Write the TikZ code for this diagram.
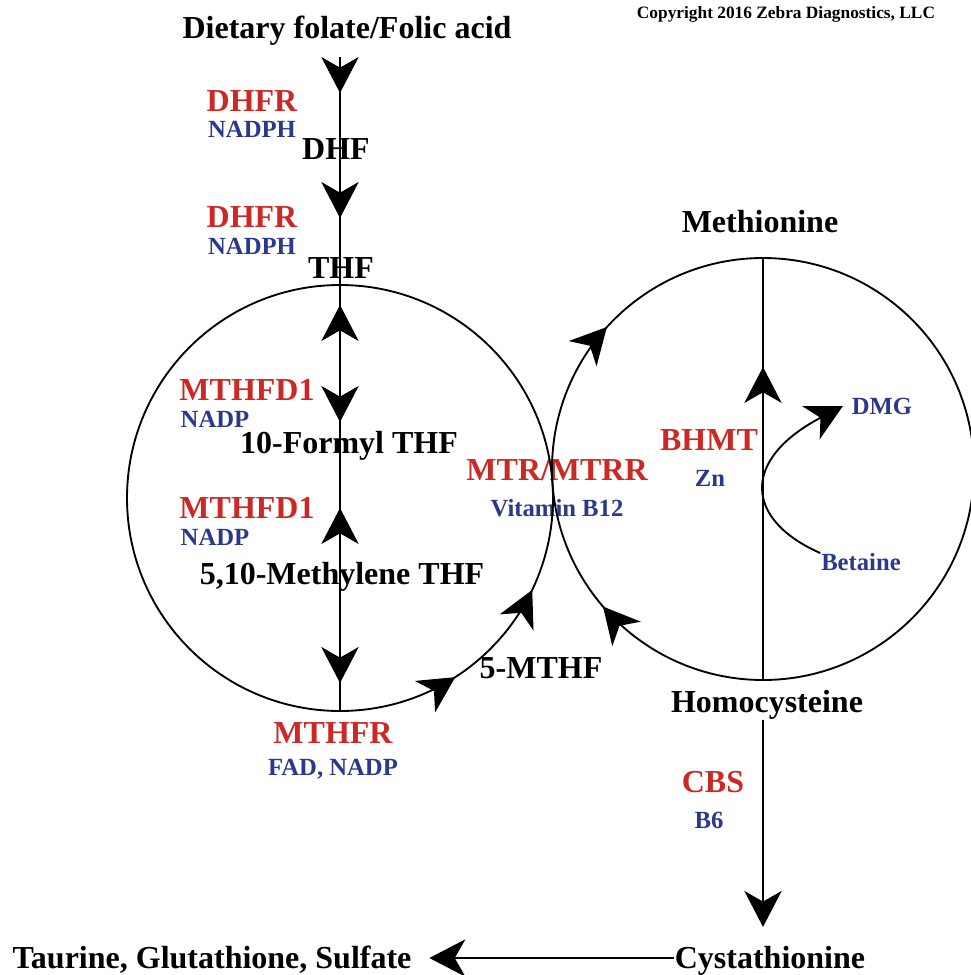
\documentclass[tikz,border=0pt]{standalone}
\usepackage{fontspec}
\setmainfont{Liberation Serif}
\usepackage{tikz}
\usetikzlibrary{arrows.meta, calc, decorations.markings}
\definecolor{enzred}{RGB}{204,41,38}
\definecolor{cofblue}{RGB}{44,56,140}

\begin{document}
\begin{tikzpicture}[x=0.75pt, y=-0.75pt, line width=1.4pt,
	head/.tip={Stealth[length=27pt, width=28pt, inset=8pt]},
	txt/.style={inner sep=0pt, text height=16pt, text depth=0pt,
		font=\fontsize{24}{28}\selectfont\bfseries},
	enz/.style={txt, text=enzred},
	cof/.style={inner sep=0pt, text height=12pt, text depth=0pt, text=cofblue,
		font=\fontsize{18.5}{22}\selectfont\bfseries},
	midarrows/.style={postaction={decorate}, decoration={markings, #1}}]
	%    frame
	\useasboundingbox (0,0) rectangle (971,975);
	\coordinate (lc) at (340,498);
	\coordinate (rc) at (763,469);

	% folate side
	\node[txt] (title) at (347,28) {Dietary folate/Folic acid};
	\node[inner sep=0pt, font=\fontsize{13}{15}\selectfont\bfseries] (copy) at (786,14) {Copyright 2016 Zebra Diagnostics, LLC};
	\node[enz] (dhfrA) at (252,101) {DHFR};
	\node[cof] (nadphA) at (252,129) {NADPH};
	\node[txt] (dhf) at (336,149) {DHF};
	\node[enz] (dhfrB) at (252,217) {DHFR};
	\node[cof] (nadphB) at (252,246) {NADPH};
	\node[txt] (thf) at (341,268) {THF};
	\node[enz] (mthfdA) at (247,390) {MTHFD1};
	\node[cof] (nadpA) at (215,419) {NADP};
	\node[txt] (formyl) at (349,443) {10-Formyl THF};
	\node[enz] (mthfdB) at (247,508) {MTHFD1};
	\node[cof] (nadpB) at (215,537) {NADP};
	\node[txt] (methylene) at (342,574) {5,10-Methylene THF};
	\node[enz] (mthfr) at (333,733) {MTHFR};
	\node[cof] (fad) at (333,767) {FAD, NADP};
	\node[txt] (mthf) at (541,668) {5-MTHF};
	\node[enz] (mtr) at (557,470) {MTR/MTRR};
	\node[cof] (bXII) at (557,508) {Vitamin B12};

	% methionine side
	\node[txt] (methionine) at (760,222) {Methionine};
	\node[txt] (homocys) at (767,702) {Homocysteine};
	\node[enz] (bhmt) at (709,440) {BHMT};
	\node[cof] (zn) at (710,478) {Zn};
	\node[cof] (dmg) at (882,406) {DMG};
	\node[cof] (betaine) at (861,562) {Betaine};
	\node[enz] (cbs) at (713,782) {CBS};
	\node[cof] (bVI) at (709,820) {B6};
	\node[txt] (cysta) at (770,958) {Cystathionine};
	\node[txt] (taurine) at (212,958) {Taurine, Glutathione, Sulfate};

	% cycles
	\draw[midarrows={mark=at position .841 with {\arrow{head}},
		mark=at position .929 with {\arrow{head}}}] (lc) circle[radius=159.75pt];
	\draw[midarrows={mark=at position .3825 with {\arrowreversed{head}},
		mark=at position .613 with {\arrowreversed{head}}}] (rc) circle[radius=158.25pt];

	% main axis through the folate cycle
	\draw[shorten >=8pt, midarrows={mark=at position 27pt with {\arrow{head}},
		mark=at position 120.75pt with {\arrow{head}},
		mark=at position 186pt with {\arrowreversed{head}},
		mark=at position 273.75pt with {\arrow{head}},
		mark=at position 338.25pt with {\arrowreversed{head}},
		mark=at position 469.5pt with {\arrow{head}}}]
		($(title -| lc)+(0,29)$) -- (mthfr.north -| lc);

	\draw[shorten <=8.6pt, shorten >=19pt, midarrows={mark=at position 242.6pt with {\arrow{head}}}]
		(homocys.north -| rc) -- (methionine.south -| rc);
	\draw[-{head}] (betaine.north west) .. controls (745,520) and (740,460) .. ([xshift=-6pt]dmg.west);

	\draw[-{head}, shorten <=4.5pt, shorten >=14.6pt] (homocys.south -| rc) -- (cysta.north -| rc);
	\draw[-{head}, shorten >=12.75pt] (cysta.west) -- (taurine.east);

\end{tikzpicture}
\end{document}
